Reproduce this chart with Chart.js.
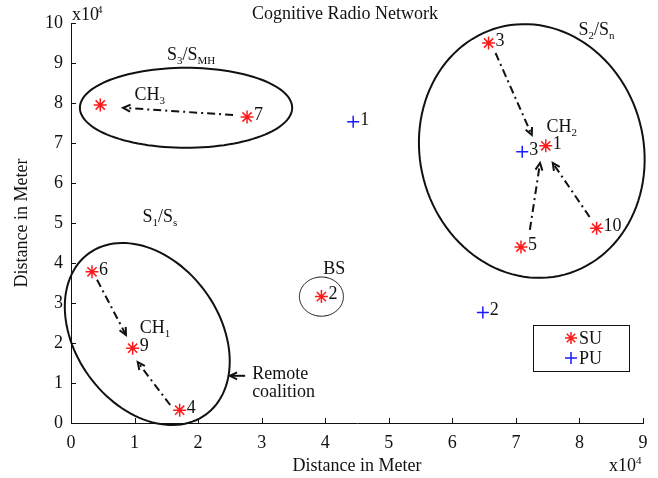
<!DOCTYPE html>
<html>
<head>
<meta charset="utf-8">
<title>Cognitive Radio Network</title>
<script src="https://cdn.jsdelivr.net/npm/chart.js@4.4.0/dist/chart.umd.min.js"></script>
<style>
  html, body { margin: 0; padding: 0; background: #fff; }
  #wrap { width: 658px; height: 478px; }
</style>
</head>
<body>
<div id="wrap"><canvas id="chart" width="658" height="478"></canvas></div>
<script>
// positions are in units of 10^4 m
// secondary users (red asterisks)
var suX = [0.46, 2.77, 6.57, 7.47, 8.27, 7.08, 0.33, 0.97, 1.71, 3.94];
var suY = [7.95, 7.65, 9.50, 6.93, 4.87, 4.40, 3.78, 1.87, 0.32, 3.16];
var suLabels = ['', '7', '3', '1', '10', '5', '6', '9', '4', '2'];

// primary users (blue crosses)
var puX = [4.44, 7.10, 6.48];
var puY = [7.53, 6.78, 2.76];
var puLabels = ['1', '3', '2'];

var xTicks = [0, 1, 2, 3, 4, 5, 6, 7, 8, 9];
var yTicks = [0, 1, 2, 3, 4, 5, 6, 7, 8, 9, 10];

// coalitions: centre + two conjugate half axes (data units)
var ellName = ['S3/SMH', 'S2/Sn', 'S1/Ss', 'BS'];
var ellCx = [1.81, 7.25, 1.20, 3.94];
var ellCy = [7.88, 6.80, 2.225, 3.16];
var ellUx = [1.67, 0.514, 0.92, 0.346];
var ellUy = [0, -3.09, -2.015, 0];
var ellVx = [0, -1.70, -0.915, 0];
var ellVy = [1.0, -0.715, -1.057, 0.49];
var ellWidth = [2, 2, 2, 1];

// dash-dot arrows: member -> cluster head
var arrFromX = [2.55, 6.68, 7.22, 8.16, 0.41, 1.56];
var arrFromY = [7.70, 9.25, 4.83, 5.15, 3.58, 0.45];
var arrToX = [0.82, 7.25, 7.38, 7.58, 0.865, 1.05];
var arrToY = [7.88, 7.20, 6.50, 6.50, 2.20, 1.52];

// text notes: [main, sub, main, sub], anchor, alignment
var noteParts = [['S', '3', '/S', 'MH'], ['CH', '3'], ['S', '2', '/S', 'n'], ['CH', '2'],
                 ['S', '1', '/S', 's'], ['CH', '1'], ['BS'], ['Remote'], ['coalition']];
var noteX = [1.89, 1.0, 8.27, 7.48, 1.40, 1.08, 3.97, 2.85, 2.85];
var noteY = [9.20, 8.20, 9.83, 7.40, 5.15, 2.37, 3.85, 1.22, 0.78];
var noteAlign = ['center', 'left', 'center', 'left', 'center', 'left', 'left', 'left', 'left'];

var FONT = '"Liberation Serif", "Times New Roman", serif';

function toXY(xs, ys) {
    var out = [];
    for (var i = 0; i < xs.length; i++) out.push({x: xs[i], y: ys[i]});
    return out;
}

function drawParts(ctx, parts, x, y, align) {
    var big = '18px ' + FONT, small = '11px ' + FONT;
    var w = 0, i;
    for (i = 0; i < parts.length; i++) {
        ctx.font = i % 2 ? small : big;
        w += ctx.measureText(parts[i]).width;
    }
    var cx = align === 'center' ? x - w / 2 : x;
    ctx.textAlign = 'left';
    ctx.textBaseline = 'middle';
    for (i = 0; i < parts.length; i++) {
        ctx.font = i % 2 ? small : big;
        ctx.fillText(parts[i], cx, i % 2 ? y + 6 : y);
        cx += ctx.measureText(parts[i]).width;
    }
}

function drawArrow(ctx, x0, y0, x1, y1, dash) {
    ctx.save();
    ctx.strokeStyle = '#111';
    ctx.lineWidth = 2;
    ctx.setLineDash(dash);
    ctx.beginPath();
    ctx.moveTo(x0, y0);
    ctx.lineTo(x1, y1);
    ctx.stroke();
    var a = Math.atan2(y1 - y0, x1 - x0), h = 8;
    ctx.setLineDash([]);
    ctx.beginPath();
    ctx.moveTo(x1 - h * Math.cos(a - 0.45), y1 - h * Math.sin(a - 0.45));
    ctx.lineTo(x1, y1);
    ctx.lineTo(x1 - h * Math.cos(a + 0.45), y1 - h * Math.sin(a + 0.45));
    ctx.stroke();
    ctx.restore();
}

function drawMarker(ctx, style, color, x, y, r) {
    ctx.save();
    ctx.strokeStyle = color;
    ctx.lineWidth = 1.5;
    ctx.beginPath();
    ctx.moveTo(x - r, y); ctx.lineTo(x + r, y);
    ctx.moveTo(x, y - r); ctx.lineTo(x, y + r);
    if (style === 'star') {
        var d = r * Math.SQRT1_2;
        ctx.moveTo(x - d, y - d); ctx.lineTo(x + d, y + d);
        ctx.moveTo(x - d, y + d); ctx.lineTo(x + d, y - d);
    }
    ctx.stroke();
    ctx.restore();
}

var whiteBg = {
    id: 'whiteBg',
    beforeDraw: function (chart) {
        var ctx = chart.ctx;
        ctx.save();
        ctx.fillStyle = '#fff';
        ctx.fillRect(0, 0, chart.width, chart.height);
        ctx.restore();
    }
};

var decorations = {
    id: 'decorations',
    beforeDatasetsDraw: function (chart) {
        var ctx = chart.ctx, sx = chart.scales.x, sy = chart.scales.y, i, t;
        ctx.save();
        // coalition ellipses
        ctx.strokeStyle = '#111';
        for (i = 0; i < ellCx.length; i++) {
            ctx.lineWidth = ellWidth[i];
            ctx.beginPath();
            for (t = 0; t <= 120; t++) {
                var a = t / 120 * Math.PI * 2;
                var px = sx.getPixelForValue(ellCx[i] + ellUx[i] * Math.cos(a) + ellVx[i] * Math.sin(a));
                var py = sy.getPixelForValue(ellCy[i] + ellUy[i] * Math.cos(a) + ellVy[i] * Math.sin(a));
                if (t === 0) ctx.moveTo(px, py); else ctx.lineTo(px, py);
            }
            ctx.closePath();
            ctx.stroke();
        }
        // arrows
        for (i = 0; i < arrFromX.length; i++) {
            drawArrow(ctx, sx.getPixelForValue(arrFromX[i]), sy.getPixelForValue(arrFromY[i]),
                      sx.getPixelForValue(arrToX[i]), sy.getPixelForValue(arrToY[i]), [8, 4, 2, 4]);
        }
        drawArrow(ctx, sx.getPixelForValue(2.74), sy.getPixelForValue(1.18),
                  sx.getPixelForValue(2.5), sy.getPixelForValue(1.18), []);
        ctx.restore();
    },
    afterDraw: function (chart) {
        var ctx = chart.ctx, area = chart.chartArea, sx = chart.scales.x, sy = chart.scales.y, i;
        ctx.save();
        ctx.fillStyle = '#111';

        // inward tick marks
        ctx.strokeStyle = '#111';
        ctx.lineWidth = 1;
        ctx.beginPath();
        xTicks.forEach(function (v) {
            var p = Math.round(sx.getPixelForValue(v)) + 0.5;
            ctx.moveTo(p, area.bottom); ctx.lineTo(p, area.bottom - 5);
        });
        yTicks.forEach(function (v) {
            var p = Math.round(sy.getPixelForValue(v)) + 0.5;
            ctx.moveTo(area.left, p); ctx.lineTo(area.left + 5, p);
        });
        ctx.stroke();

        // title and exponent notes
        ctx.font = '18px ' + FONT;
        ctx.textAlign = 'center';
        ctx.textBaseline = 'middle';
        ctx.fillText('Cognitive Radio Network', (area.left + area.right) / 2 - 12, 14);
        drawParts(ctx, ['x10'], area.left + 1, area.top - 8, 'left');
        ctx.font = '11px ' + FONT;
        ctx.textAlign = 'left';
        ctx.fillText('4', area.left + 1 + 25, area.top - 13);
        ctx.font = '18px ' + FONT;
        var w = ctx.measureText('x10').width;
        drawParts(ctx, ['x10'], area.right - 34, 466, 'left');
        ctx.font = '11px ' + FONT;
        ctx.fillText('4', area.right - 34 + w, 461);

        // point numbers
        ctx.font = '18px ' + FONT;
        ctx.textAlign = 'left';
        ctx.textBaseline = 'middle';
        [suLabels, puLabels].forEach(function (labels, d) {
            var meta = chart.getDatasetMeta(d);
            labels.forEach(function (txt, j) {
                if (txt) ctx.fillText(txt, meta.data[j].x + 7, meta.data[j].y - 2);
            });
        });

        // notes
        for (i = 0; i < noteParts.length; i++) {
            drawParts(ctx, noteParts[i], sx.getPixelForValue(noteX[i]), sy.getPixelForValue(noteY[i]), noteAlign[i]);
        }

        // legend box
        var lx = area.right - 110, ly = area.bottom - 98;
        ctx.fillStyle = '#fff';
        ctx.fillRect(lx, ly, 96, 46);
        ctx.strokeStyle = '#111';
        ctx.lineWidth = 1;
        ctx.strokeRect(lx + 0.5, ly + 0.5, 96, 46);
        ctx.fillStyle = '#111';
        chart.data.datasets.forEach(function (ds, k) {
            var ry = ly + 13 + k * 20;
            drawMarker(ctx, ds.pointStyle, ds.borderColor, lx + 38, ry, 6);
            ctx.font = '18px ' + FONT;
            ctx.textAlign = 'left';
            ctx.fillText(ds.label, lx + 46, ry + 1);
        });
        ctx.restore();
    }
};

var axisFont = {family: FONT, size: 18};

new Chart(document.getElementById('chart'), {
    type: 'scatter',
    data: {
        datasets: [{
            label: 'SU',
            data: toXY(suX, suY),
            pointStyle: 'star',
            pointRadius: 6.5,
            pointHoverRadius: 6.5,
            borderColor: '#ff1a1a',
            backgroundColor: '#ff1a1a',
            borderWidth: 1.5
        }, {
            label: 'PU',
            data: toXY(puX, puY),
            pointStyle: 'cross',
            pointRadius: 6,
            pointHoverRadius: 6,
            borderColor: '#1a1aff',
            backgroundColor: '#1a1aff',
            borderWidth: 1.5
        }]
    },
    options: {
        responsive: false,
        animation: false,
        events: [],
        layout: {padding: {left: 0, top: 23, right: 15, bottom: 0}},
        plugins: {legend: {display: false}, tooltip: {enabled: false}, title: {display: false}},
        scales: {
            x: {
                type: 'linear',
                min: 0, max: 9,
                afterFit: function (s) { s.height = 55; },
                afterBuildTicks: function (s) { s.ticks = xTicks.map(function (v) { return {value: v}; }); },
                grid: {display: false, drawTicks: false},
                border: {display: true, color: '#111', width: 1},
                ticks: {color: '#111', font: axisFont, padding: 9, maxRotation: 0},
                title: {display: true, text: 'Distance in Meter', color: '#111', font: axisFont, padding: {top: 0, bottom: 1}}
            },
            y: {
                type: 'linear',
                min: 0, max: 10,
                afterFit: function (s) { s.width = 71; },
                afterBuildTicks: function (s) { s.ticks = yTicks.map(function (v) { return {value: v}; }); },
                grid: {display: false, drawTicks: false},
                border: {display: true, color: '#111', width: 1},
                ticks: {color: '#111', font: axisFont, padding: 8},
                title: {display: true, text: 'Distance in Meter', color: '#111', font: axisFont, padding: {top: 11, bottom: 0}}
            }
        }
    },
    plugins: [whiteBg, decorations]
});
</script>
</body>
</html>
